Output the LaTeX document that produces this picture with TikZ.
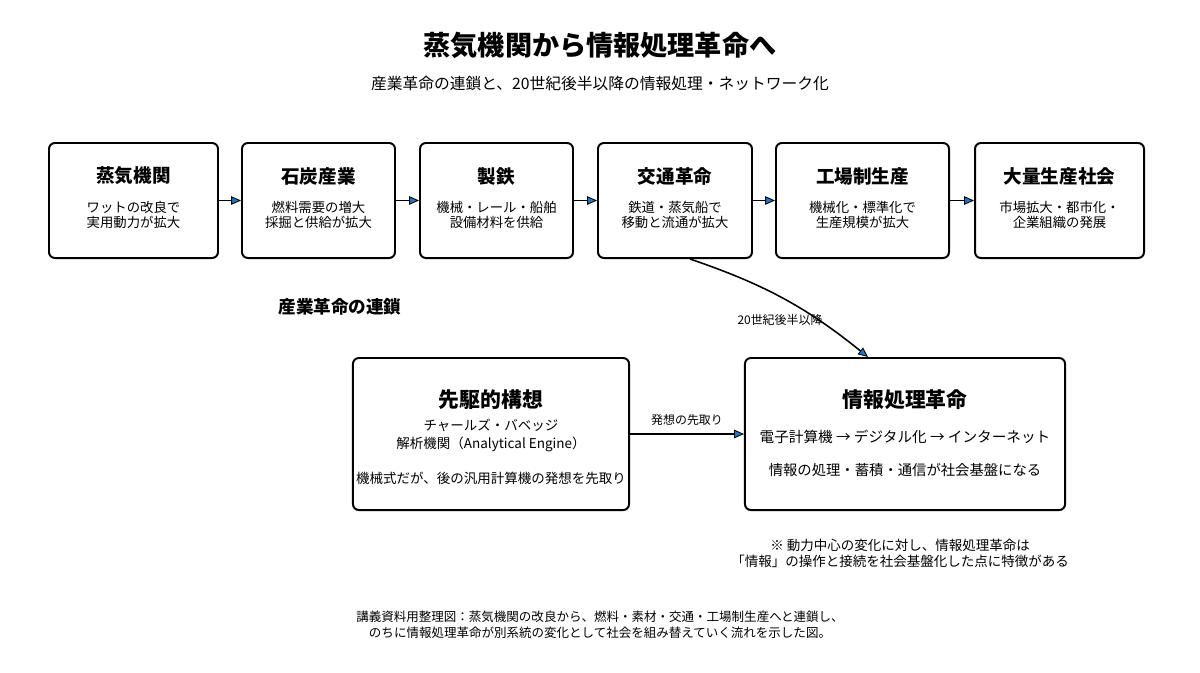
\documentclass[tikz,border=0pt]{standalone}
\usepackage{fontspec}
\setmainfont{Noto Sans CJK JP}
\usetikzlibrary{arrows.meta,calc,positioning}
\definecolor{tipblue}{HTML}{1F77C4}

\tikzset{
  stagebox/.style={draw, line width=1.4pt, rounded corners=4.2pt, minimum height=2.875cm},
  bigbox/.style={draw, line width=1.4pt, rounded corners=4.2pt, minimum height=3.8cm},
  stagettl/.style={font=\bfseries\fontsize{13.2}{15}\selectfont},
  stagetxt/.style={align=center, font=\fontsize{9.5}{10.2}\selectfont},
  bigttl/.style={font=\bfseries\fontsize{14.8}{17}\selectfont},
  bigtxt/.style={align=center, font=\fontsize{9.6}{13.4}\selectfont},
  flow/.style={line width=1.1pt, -{Triangle[length=7pt,width=6pt,line width=0.6pt,fill=tipblue]}},
  flowlbl/.style={font=\fontsize{8.5}{10}\selectfont}
}

\begin{document}
\begin{tikzpicture}[x=0.025cm, y=-0.025cm]
    \useasboundingbox (0,0) rectangle (1200,672);

    \node[font=\bfseries\fontsize{19.3}{22}\selectfont] (title) at (600,45) {蒸気機関から情報処理革命へ};
    \node[font=\fontsize{11.2}{13}\selectfont] (subtitle) at (600,84) {産業革命の連鎖と、20世紀後半以降の情報処理・ネットワーク化};

    \foreach \n/\x/\w/\ttl/\txt in {
        steam/133.5/169/蒸気機関/{ワットの改良で\\実用動力が拡大},
        coal/318.5/153/石炭産業/{燃料需要の増大\\採掘と供給が拡大},
        iron/496.5/153/製鉄/{機械・レール・船舶\\設備材料を供給},
        transport/675/154/交通革命/{鉄道・蒸気船で\\移動と流通が拡大},
        factory/862.5/173/工場制生産/{機械化・標準化で\\生産規模が拡大},
        mass/1059.5/169/大量生産社会/{市場拡大・都市化・\\企業組織の発展}}{
        \node[stagebox, minimum width=\w*0.025cm] (\n) at (\x,200.5) {};
        \node[stagettl] (\n-t) at (\x,176) {\ttl};
        \node[stagetxt] (\n-b) at (\x,215) {\txt};
    }
    \foreach \u/\v in {steam/coal,coal/iron,iron/transport,transport/factory,factory/mass}
        \draw[flow] (\u) -- (\v);

    \node[font=\bfseries\fontsize{12.5}{15}\selectfont] (chain) at (340,307) {産業革命の連鎖};

    \node[bigbox, minimum width=6.9cm] (pioneer) at (491,434) {};
    \node[bigttl] (pioneer-t) at (491,400) {先駆的構想};
    \node[bigtxt] (pioneer-b) at (491,435.5) {チャールズ・バベッジ\\解析機関（Analytical Engine）};
    \node[bigtxt] (pioneer-c) at (491,478) {機械式だが、後の汎用計算機の発想を先取り};

    \node[bigbox, minimum width=8cm] (info) at (905,434) {};
    \node[bigttl] (info-t) at (905,400) {情報処理革命};
    \node[bigtxt, font=\fontsize{10.4}{12}\selectfont] (info-b) at (905,437) {電子計算機 → デジタル化 → インターネット};
    \node[bigtxt, font=\fontsize{10.2}{12}\selectfont] (info-c) at (905,470) {情報の処理・蓄積・通信が社会基盤になる};

    \draw[flow] (pioneer) -- node[flowlbl, above=2pt] (lead) {発想の先取り} (info);
    \draw[flow] ([xshift=0.375cm]transport.south) to[bend left=10] ([xshift=-0.925cm]info.north);
    \node[flowlbl] (late) at (780,320) {20世紀後半以降};

    \node[align=center, font=\fontsize{9.6}{11.4}\selectfont] (note) at (900,553) {※ 動力中心の変化に対し、情報処理革命は\\「情報」の操作と接続を社会基盤化した点に特徴がある};
    \node[align=center, font=\fontsize{8.9}{11.3}\selectfont] (caption) at (600,625) {講義資料用整理図：蒸気機関の改良から、燃料・素材・交通・工場制生産へと連鎖し、\\のちに情報処理革命が別系統の変化として社会を組み替えていく流れを示した図。};
\end{tikzpicture}
\end{document}
